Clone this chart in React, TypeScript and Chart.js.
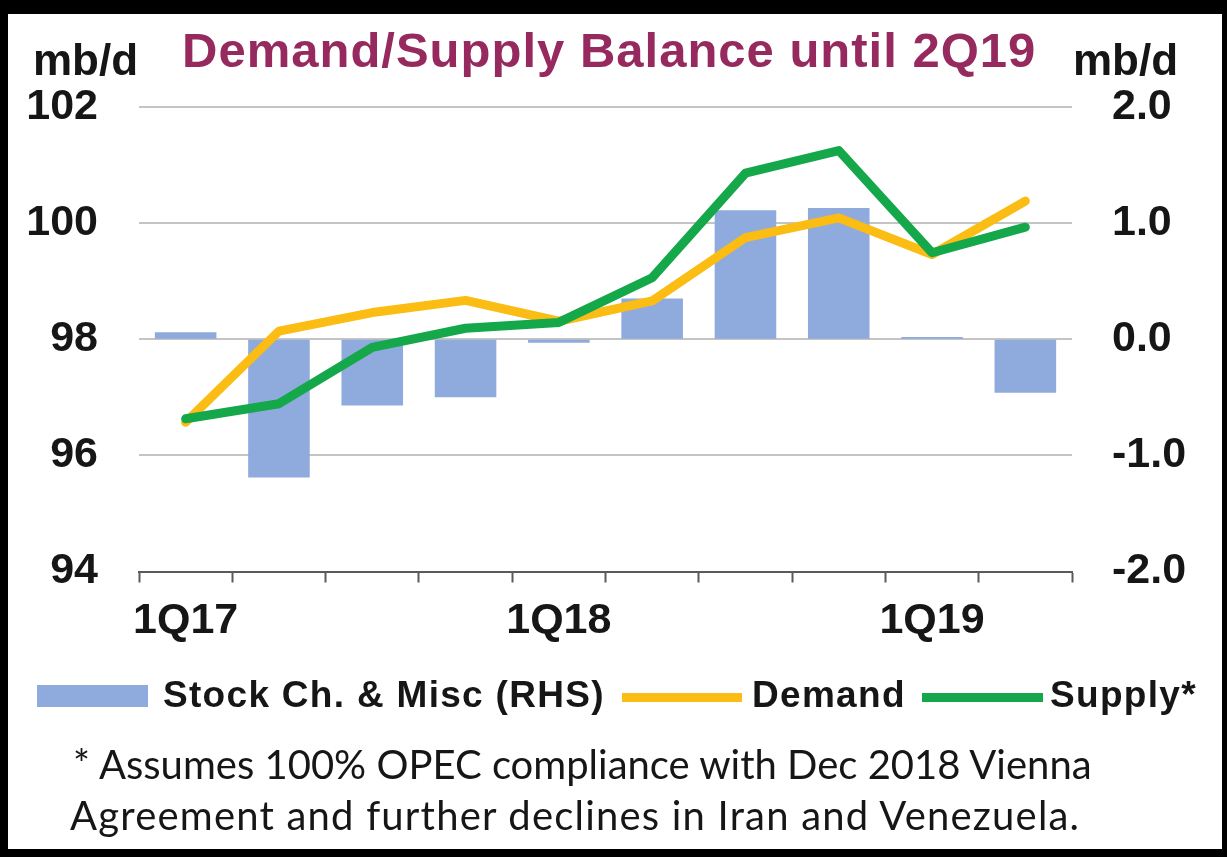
import React, { useEffect, useRef } from 'react';
import { Chart, registerables } from 'chart.js';

Chart.register(...registerables);

// ---- data ----
const categories = ['1Q17', '2Q17', '3Q17', '4Q17', '1Q18', '2Q18', '3Q18', '4Q18', '1Q19', '2Q19'];
const shownLabels = ['1Q17', '1Q18', '1Q19'];
const stockChange = [0.06, -1.19, -0.57, -0.5, -0.03, 0.35, 1.11, 1.13, 0.02, -0.46];
const demand = [96.57, 98.14, 98.46, 98.67, 98.31, 98.66, 99.75, 100.09, 99.46, 100.38];
const supply = [96.63, 96.89, 97.86, 98.19, 98.29, 99.06, 100.86, 101.25, 99.49, 99.93];
const leftTicks = [94, 96, 98, 100, 102];
const rightTicks = [-2, -1, 0, 1, 2];

const BLUE = '#8FAADC';
const YELLOW = '#FBBC13';
const GREEN = '#14A84B';
const GRID = '#C4C4C4';
const AXIS = '#5A5A5A';
const TEXT = '#161616';
const TITLE = '#962A5F';
const SANS = '"Liberation Sans", Arial, sans-serif';
const FOOT = 'Lato, "Open Sans", sans-serif';

type TProps = {
  x: number;
  base: number;
  size: number;
  text: React.ReactNode;
  color?: string;
  weight?: number | string;
  family?: string;
  spacing?: number;
  ratio?: number;
};

function T({ x, base, size, text, color = TEXT, weight = 700, family = SANS, spacing = 0, ratio = 0.8465 }: TProps) {
  return (
    <div
      style={{
        position: 'absolute',
        left: x,
        top: base - ratio * size,
        fontSize: size,
        lineHeight: `${size}px`,
        fontFamily: family,
        fontWeight: weight as any,
        color,
        letterSpacing: spacing,
        whiteSpace: 'nowrap',
      }}
    >
      {text}
    </div>
  );
}

function Swatch({ x, y, w, h, color }: { x: number; y: number; w: number; h: number; color: string }) {
  return <div style={{ position: 'absolute', left: x, top: y, width: w, height: h, background: color }} />;
}

export default function App() {
  const ref = useRef<HTMLCanvasElement>(null);

  useEffect(() => {
    if (!ref.current) return;
    const tickFont = { family: SANS, size: 43, weight: 'bold' as const };
    const chart = new Chart(ref.current, {
      type: 'bar',
      data: {
        labels: categories,
        datasets: [
          {
            type: 'line',
            label: 'Supply*',
            data: supply,
            borderColor: GREEN,
            backgroundColor: GREEN,
            borderWidth: 9,
            pointRadius: 0,
            pointHoverRadius: 0,
            borderCapStyle: 'round',
            borderJoinStyle: 'round',
            tension: 0,
            yAxisID: 'y',
            order: 1,
          } as any,
          {
            type: 'line',
            label: 'Demand',
            data: demand,
            borderColor: YELLOW,
            backgroundColor: YELLOW,
            borderWidth: 9,
            pointRadius: 0,
            pointHoverRadius: 0,
            borderCapStyle: 'round',
            borderJoinStyle: 'round',
            tension: 0,
            yAxisID: 'y',
            order: 2,
          } as any,
          {
            type: 'bar',
            label: 'Stock Ch. & Misc (RHS)',
            data: stockChange,
            backgroundColor: BLUE,
            borderWidth: 0,
            barPercentage: 0.66,
            categoryPercentage: 1,
            yAxisID: 'y1',
            order: 3,
          } as any,
        ],
      },
      options: {
        responsive: false,
        animation: false,
        devicePixelRatio: 1,
        layout: { padding: { top: 107, left: 0, right: 0, bottom: 0 } },
        plugins: {
          legend: { display: false },
          tooltip: { enabled: false },
          title: { display: false },
        },
        scales: {
          x: {
            offset: true,
            grid: {
              offset: true,
              drawOnChartArea: false,
              drawTicks: true,
              tickLength: 11,
              tickColor: AXIS,
              tickWidth: 2,
            } as any,
            border: { display: true, color: AXIS, width: 2 },
            ticks: {
              autoSkip: false,
              maxRotation: 0,
              minRotation: 0,
              padding: 13,
              color: TEXT,
              font: tickFont,
              callback: (_v: any, i: number) => (shownLabels.includes(categories[i]) ? categories[i] : ''),
            },
            afterFit: (s: any) => {
              s.height = 285.5;
            },
          },
          y: {
            position: 'left',
            min: 94,
            max: 102,
            afterBuildTicks: (s: any) => {
              s.ticks = leftTicks.map((v) => ({ value: v }));
            },
            grid: {
              color: (ctx: any) => (ctx.tick && ctx.tick.value === 94 ? 'rgba(0,0,0,0)' : GRID),
              lineWidth: 2,
              drawTicks: false,
            },
            border: { display: false },
            ticks: { padding: 41, color: TEXT, font: tickFont },
            afterFit: (s: any) => {
              s.width = 139;
            },
          },
          y1: {
            position: 'right',
            min: -2,
            max: 2,
            afterBuildTicks: (s: any) => {
              s.ticks = rightTicks.map((v) => ({ value: v }));
            },
            grid: { drawOnChartArea: false, drawTicks: false },
            border: { display: false },
            ticks: {
              padding: 40,
              color: TEXT,
              font: tickFont,
              callback: (v: any) => Number(v).toFixed(1),
            },
            afterFit: (s: any) => {
              s.width = 155;
            },
          },
        },
      },
    });
    return () => chart.destroy();
  }, []);

  return (
    <div style={{ position: 'fixed', left: 0, top: 0, width: 1227, height: 857, background: '#fff', overflow: 'hidden' }}>
      <canvas ref={ref} width={1227} height={857} style={{ position: 'absolute', left: 0, top: 0 }} />

      {/* units and title */}
      <T x={33} base={75} size={44} text="mb/d" />
      <T x={1073} base={75} size={44} text="mb/d" />
      <T x={182} base={67.5} size={49} spacing={1} color={TITLE} text="Demand/Supply Balance until 2Q19" />

      {/* legend */}
      <Swatch x={37} y={685} w={111} h={22} color={BLUE} />
      <T x={163} base={707} size={37} spacing={1.3} text="Stock Ch. & Misc (RHS)" />
      <Swatch x={622} y={692.5} w={120} h={9} color={YELLOW} />
      <T x={752} base={707} size={37} spacing={1.3} text="Demand" />
      <Swatch x={922} y={692.5} w={121} h={9} color={GREEN} />
      <T x={1050} base={707} size={37} spacing={1.3} text="Supply*" />

      {/* footnote */}
      <T x={73} base={779} size={40} weight={400} family={FOOT} ratio={0.887} text="* Assumes 100% OPEC compliance with Dec 2018 Vienna" />
      <T x={70} base={830} size={40} weight={400} family={FOOT} ratio={0.887} spacing={1.2} text="Agreement and further declines in Iran and Venezuela." />

      {/* frame */}
      <div
        style={{
          position: 'absolute',
          left: 0,
          top: 0,
          width: 1227,
          height: 857,
          boxSizing: 'border-box',
          borderStyle: 'solid',
          borderColor: '#000',
          borderWidth: '14px 5px 8px 8px',
          pointerEvents: 'none',
        }}
      />
    </div>
  );
}
